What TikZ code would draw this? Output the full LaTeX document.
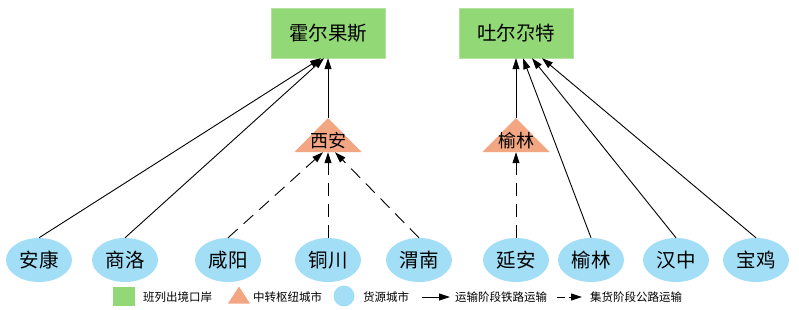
\documentclass[tikz,border=0pt]{standalone}
\usepackage{fontspec}
\usepackage{tikz}
\usetikzlibrary{arrows.meta,shapes.geometric}
\newfontfamily\cjk{Noto Sans CJK SC}
\definecolor{portgreen}{RGB}{146,216,118}
\definecolor{hubsalmon}{RGB}{243,166,130}
\definecolor{cityblue}{RGB}{162,222,246}
\tikzset{
  portbox/.style={fill=portgreen, draw=portgreen!70!white, minimum width=114pt,
    minimum height=50pt, font=\cjk\fontsize{19.5}{22}\selectfont},
  hubtri/.style={minimum width=67pt, minimum height=34pt, inner sep=0pt,
    text height=26pt, text depth=2pt, font=\cjk\fontsize{18}{20}\selectfont,
    path picture={\fill[hubsalmon] (path picture bounding box.south west)
      -- (path picture bounding box.north) -- (path picture bounding box.south east) -- cycle;}},
  citynode/.style={ellipse, fill=cityblue, minimum width=66pt, minimum height=44pt,
    inner sep=0pt, font=\cjk\fontsize{19.5}{22}\selectfont},
  rail/.style={-{Triangle[length=11pt,width=7pt]}, line width=0.9pt},
  road/.style={rail, dash pattern=on 13pt off 8pt},
  legsq/.style={fill=portgreen, minimum width=22pt, minimum height=19pt, inner sep=0pt},
  legtri/.style={hubtri, minimum width=22pt, minimum height=17pt, text height=0pt, text depth=0pt},
  legdot/.style={circle, fill=cityblue, minimum size=21pt, inner sep=0pt},
  legtext/.style={anchor=west, inner sep=0pt, font=\cjk\fontsize{11.5}{13}\selectfont}
}
\begin{document}
\begin{tikzpicture}[x=1pt, y=-1pt]
\useasboundingbox (0,0) rectangle (799,309);
% ports
\node[portbox] (hg) at (328,33) {霍尔果斯};
\node[portbox] (tg) at (516,33) {吐尔尕特};
% hubs
\node[hubtri] (xa) at (328,135) {西安};
\node[hubtri] (yl) at (516,135) {榆林};
% source cities
\node[citynode] (ak) at (39,260) {安康};
\node[citynode] (sl) at (125,260) {商洛};
\node[citynode] (xy) at (228,260) {咸阳};
\node[citynode] (tc) at (328,260) {铜川};
\node[citynode] (wn) at (419,260) {渭南};
\node[citynode] (ya) at (516,260) {延安};
\node[citynode] (ylc) at (591,260) {榆林};
\node[citynode] (hz) at (676,260) {汉中};
\node[citynode] (bj) at (756,260) {宝鸡};

\draw[rail] (ak.north) -- ([xshift=-7pt]hg.south);
\draw[rail] (sl.north) -- ([xshift=-4pt]hg.south);
\draw[rail] (xa.north) -- (hg.south);
\draw[road] (xy.north) -- ([xshift=-5pt]xa.south);
\draw[road] (tc.north) -- (xa.south);
\draw[road] (wn.north) -- ([xshift=7pt]xa.south);

\draw[rail] (yl.north) -- (tg.south);
\draw[road] (ya.north) -- (yl.south);
\draw[rail] (ylc.north) -- ([xshift=7pt]tg.south);
\draw[rail] (hz.north) -- ([xshift=16pt]tg.south);
\draw[rail] (bj.north) -- ([xshift=26pt]tg.south);

% legend
\node[legsq] (lg1) at (124,296) {};
\node[legtext] (lt1) at (143,297) {班列出境口岸};
\node[legtri] (lg2) at (239,295) {};
\node[legtext] (lt2) at (253,297) {中转枢纽城市};
\node[legdot] (lg3) at (344,296) {};
\node[legtext] (lt3) at (363,297) {货源城市};
\coordinate (la1) at (422,297);
\coordinate (la2) at (450,297);
\draw[rail] (la1) -- (la2);
\node[legtext] (lt4) at (455,297) {运输阶段铁路运输};
\coordinate (lb1) at (557,297);
\coordinate (lb2) at (582,297);
\draw[rail, dash pattern=on 8pt off 4pt] (lb1) -- (lb2);
\node[legtext] (lt5) at (590,297) {集货阶段公路运输};
\end{tikzpicture}
\end{document}
